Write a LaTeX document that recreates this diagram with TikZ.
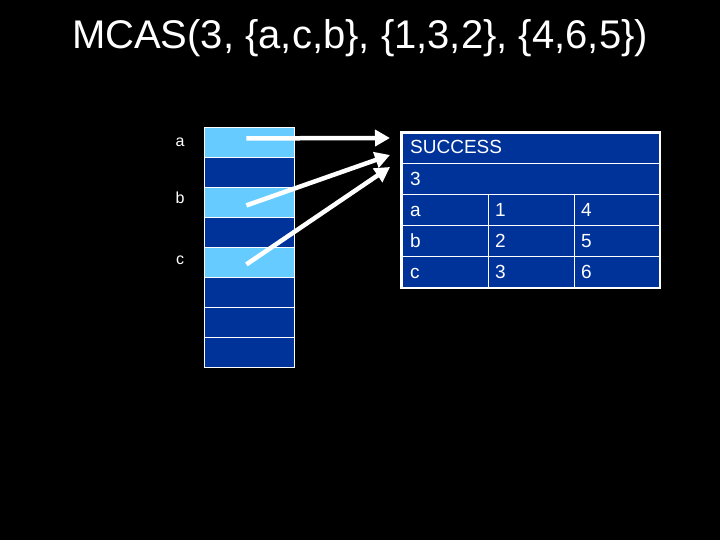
\documentclass[tikz,border=0pt]{standalone}
\usepackage{fontspec}
\setmainfont{Liberation Sans}
\usetikzlibrary{arrows.meta,calc}
\definecolor{lightcell}{HTML}{66CCFF}
\definecolor{darkcell}{HTML}{003399}
\begin{document}
\begin{tikzpicture}[x=1pt,y=-1pt,
  memcell/.style={draw=white,line width=0.8pt,minimum width=90pt,minimum height=30pt,inner sep=0pt,anchor=north west},
  tcell/.style={draw=white,line width=0.8pt,fill=darkcell,inner sep=0pt,outer sep=0pt,anchor=north west,minimum height=30.8pt},
  ttext/.style={anchor=base west,text=white,font=\fontsize{19}{19}\selectfont,inner sep=0pt},
  lbl/.style={anchor=base,text=white,font=\fontsize{16}{16}\selectfont,inner sep=0pt},
  ptr/.style={draw=white,line width=4.5pt,-{Triangle[length=15pt,width=16pt]}}]
\fill[black] (0,0) rectangle (720,540);
\useasboundingbox (0,0) rectangle (720,540);
\node[text=white,font=\fontsize{40}{40}\selectfont] (title) at (360,38) {MCAS(3, \{a,c,b\}, \{1,3,2\}, \{4,6,5\})};
% memory column
\node[memcell,fill=lightcell] (m0) at (204,127) {};
\node[memcell,fill=darkcell] (m1) at (204,157) {};
\node[memcell,fill=lightcell] (m2) at (204,187) {};
\node[memcell,fill=darkcell] (m3) at (204,217) {};
\node[memcell,fill=lightcell] (m4) at (204,247) {};
\node[memcell,fill=darkcell] (m5) at (204,277) {};
\node[memcell,fill=darkcell] (m6) at (204,307) {};
\node[memcell,fill=darkcell] (m7) at (204,337) {};
\node[lbl] (la) at (180,147) {a};
\node[lbl] (lb) at (180,204) {b};
\node[lbl] (lc) at (180,264) {c};
% descriptor table
\draw[white,line width=2.5pt] (401,132) rectangle (660,288);
\node[tcell,minimum width=257pt] (succ) at (402,133) {};
\node[tcell,minimum width=257pt] (cnt) at (402,163.8) {};
\node[ttext] (succt) at ($(succ.north west)+(8,21)$) {SUCCESS};
\node[ttext] (cntt) at ($(cnt.north west)+(8,21.5)$) {3};
\foreach \r/\y/\p/\q/\s in {0/194.6/a/1/4,1/225.4/b/2/5,2/256.2/c/3/6}{
  \node[tcell,minimum width=86pt] (k\r) at (402,\y) {};
  \node[tcell,minimum width=86pt] (o\r) at (488,\y) {};
  \node[tcell,minimum width=85pt] (n\r) at (574,\y) {};
  \node[ttext] (kt\r) at ($(k\r.north west)+(8,22)$) {\p};
  \node[ttext] (ot\r) at ($(o\r.north west)+(7,22)$) {\q};
  \node[ttext] (nt\r) at ($(n\r.north west)+(7,22)$) {\s};
}
% pointers
\coordinate (ea) at ($(succ.west)+(-12,-10.4)$);
\coordinate (eb) at ($(succ.west)+(-12,6.6)$);
\coordinate (ec) at ($(succ.west)+(-12,18.6)$);
\draw[ptr] ($(m0.center)+(-3,-4)$) -- (ea);
\draw[ptr] ($(m2.center)+(-3,3)$) -- (eb);
\draw[ptr] ($(m4.center)+(-3,2)$) -- (ec);
\end{tikzpicture}
\end{document}
